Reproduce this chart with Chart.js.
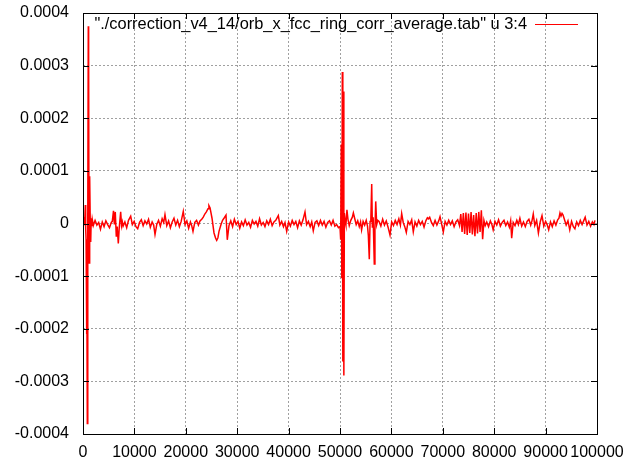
<!DOCTYPE html>
<html>
<head>
<meta charset="utf-8">
<script src="https://cdn.jsdelivr.net/npm/chart.js@4"></script>
<style>
  html, body { margin: 0; padding: 0; background: #fff; }
  #wrap { width: 624px; height: 462px; }
</style>
</head>
<body>
<div id="wrap"><canvas id="orbit" width="624" height="462"></canvas></div>
<script>
// s position along the ring (column 3)
const sPos = [
  0,120,250,350,450,520,600,680,760,840,900,960,1030,1080,1110,1170,1230,1300,1360,1430,1500,1600,1700,1800,
  2000,2350,2700,3050,3400,3750,4100,4450,4800,5150,5500,
  5700,5930,6100,6280,6480,6650,6870,7050,7330,7500,7650,
  7800,8150,8500,8850,9280,9600,9950,10300,10640,11000,
  11350,11700,12050,12400,12750,13100,13450,13750,14010,14350,
  14700,15050,15400,15700,15950,16300,16650,17000,17350,17700,
  18050,18400,18750,19100,19510,19850,20200,20550,20900,21150,
  21400,21750,22100,22450,22760,23100,23400,23700,24000,24320,24500,
  24710,25100,25490,25800,26010,26250,26460,26850,27150,27430,27820,28070,28400,
  28750,29100,29450,29800,30150,30500,30850,31200,31550,31900,
  32250,32600,32950,33300,33650,34000,34350,34700,35050,35400,
  35750,36100,36450,36800,37150,37500,38000,38300,38650,39000,
  39300,39630,40000,40350,40700,41050,41400,41750,42100,42450,
  42800,43190,43500,43850,44200,44500,44800,45150,45500,45850,
  46200,46550,46900,47250,47600,47950,48300,48650,49000,49350,49700,
  50000,50130,50250,50350,50450,50550,50650,50750,50850,51000,
  51150,51350,51550,51800,52100,52400,52600,52850,53150,53450,53750,54000,54200,54500,54800,55100,55350,
  55510,55700,55850,56000,56170,56300,56450,56670,56800,56950,57140,57350,
  57600,57950,58300,58650,59000,59350,59730,60050,60400,60750,
  61100,61450,61750,62000,62300,62600,62900,63250,63600,63950,
  64260,64600,64950,65300,65650,66000,66350,66700,67000,67200,
  67450,67800,68150,68500,68850,69200,69460,69800,70100,70450,
  70800,71150,71500,71850,72200,72550,72900,73250,
  73500,73750,74000,74250,74500,74750,75000,75250,75500,75750,
  76000,76250,76500,76750,77000,77250,77500,77750,78000,78250,
  78550,78900,79250,79550,79800,80150,80500,80850,81200,81550,
  81900,82250,82600,82950,83200,83400,83700,84050,84400,84700,
  85000,85350,85700,86050,86400,86750,87100,87350,87600,87900,
  88250,88600,88950,89300,89650,90000,90300,90600,90950,91300,
  91650,92000,92350,92600,92800,93000,93200,93400,93650,94000,
  94350,94700,95050,95400,95700,96050,96400,96750,97100,97400,
  97700,98050,98400,98750,99100,99400,99600
];

// orbit x (column 4), in units of 1e-6
const orbX = [
  12,4,-2,8,35,-10,-30,-210,-60,-380,-150,20,375,40,320,-75,85,-20,90,-10,-35,10,-5,8,
  -4,6,-3,2,-11,3,-6,5,-2,-8,2,
  4,24,-2,22,-25,-6,-38,-8,22,-4,3,
  -5,3,-8,6,14,-2,4,-6,-10,2,
  7,-4,5,-1,8,-7,3,-3,-21,-2,
  6,-5,9,2,17,-4,5,-8,3,10,
  -3,6,-6,4,23,-2,5,-9,3,-4,
  -15,2,6,-3,5,8,12,18,22,28,34,
  30,10,-18,-28,-32,-27,-15,-2,6,10,16,-31,-4,
  5,-6,8,-2,4,-9,3,-4,7,-3,
  2,-7,6,-1,4,-5,9,-3,2,-6,
  5,-2,8,-4,3,6,15,-3,4,-6,
  2,-15,3,-5,6,-2,4,-8,5,-3,
  7,22,-2,4,-6,3,-14,2,5,-4,
  6,-3,4,-7,2,5,-3,6,-5,-2,-8,
  -6,-31,150,-104,288,-262,251,-289,20,4,
  -3,26,8,-4,6,12,20,10,-2,5,-6,3,-12,4,-3,6,-5,
  -22,-68,4,8,75,-8,12,-77,-10,42,-2,6,
  4,-5,8,-3,5,-7,-22,3,-4,6,
  -2,9,-3,19,2,-6,-17,4,-2,7,
  -16,3,-5,6,-2,4,-7,5,11,9,
  12,2,-4,6,-3,5,13,-2,-16,4,
  -3,6,-2,5,-6,3,7,-4,
  18,-16,20,-20,21,-22,19,-18,22,-21,
  16,-24,20,-19,22,-16,25,-30,6,-4,
  3,-6,5,-2,-12,4,-3,7,-5,2,
  6,-4,3,-7,5,-28,2,-4,6,-2,
  10,-5,3,-6,4,8,-3,5,18,-4,
  6,-18,3,15,-5,4,-2,-12,3,-6,
  5,-3,7,10,20,14,19,16,8,-3,
  5,-12,4,-6,-10,3,-4,6,-2,5,
  12,-3,4,-5,3,-2,6
];

const xTickValues = [0, 10000, 20000, 30000, 40000, 50000, 60000, 70000, 80000, 90000, 100000];
const xTickLabels = ['0', '10000', '20000', '30000', '40000', '50000', '60000', '70000', '80000', '90000', '100000'];
const yTickValues = [-0.0004, -0.0003, -0.0002, -0.0001, 0, 0.0001, 0.0002, 0.0003, 0.0004];
const yTickLabels = ['-0.0004', '-0.0003', '-0.0002', '-0.0001', '0', '0.0001', '0.0002', '0.0003', '0.0004'];

const seriesLabel = '"./correction_v4_14/orb_x_fcc_ring_corr_average.tab" u 3:4';

const FONT = "'Liberation Sans', Arial, sans-serif";

const points = sPos.map((s, i) => ({ x: s, y: orbX[i] * 1e-6 }));

// gnuplot style box, mirrored inward ticks and the key
const frameAndKey = {
  id: 'frameAndKey',
  afterDraw(chart) {
    const { ctx, chartArea: a, scales } = chart;
    ctx.save();
    ctx.strokeStyle = '#000';
    ctx.lineWidth = 1;
    ctx.beginPath();
    xTickValues.forEach(v => {
      const px = Math.round(scales.x.getPixelForValue(v)) + 0.5;
      ctx.moveTo(px, a.bottom); ctx.lineTo(px, a.bottom - 6);
      ctx.moveTo(px, a.top); ctx.lineTo(px, a.top + 6);
    });
    yTickValues.forEach(v => {
      const py = Math.round(scales.y.getPixelForValue(v)) + 0.5;
      ctx.moveTo(a.left, py); ctx.lineTo(a.left + 6, py);
      ctx.moveTo(a.right, py); ctx.lineTo(a.right - 6, py);
    });
    ctx.stroke();
    ctx.strokeRect(a.left + 0.5, a.top + 0.5, a.right - a.left, a.bottom - a.top);

    const ds = chart.data.datasets[0];
    ctx.font = '16.4px ' + FONT;
    ctx.fillStyle = '#000';
    ctx.textAlign = 'right';
    ctx.textBaseline = 'middle';
    ctx.fillText(ds.label, 527, 24);
    ctx.strokeStyle = ds.borderColor;
    ctx.lineWidth = 1;
    ctx.beginPath();
    ctx.moveTo(535, 24.5);
    ctx.lineTo(578, 24.5);
    ctx.stroke();
    ctx.restore();
  }
};

new Chart(document.getElementById('orbit').getContext('2d'), {
  type: 'line',
  data: {
    datasets: [{
      label: seriesLabel,
      data: points,
      borderColor: '#ff0000',
      borderWidth: 1.5,
      pointRadius: 0,
      tension: 0,
      fill: false
    }]
  },
  options: {
    responsive: false,
    animation: false,
    events: [],
    layout: { padding: { left: 0, right: 27, top: 13, bottom: 0 } },
    plugins: {
      legend: { display: false },
      tooltip: { enabled: false }
    },
    scales: {
      x: {
        type: 'linear',
        min: 0,
        max: 100000,
        afterBuildTicks: (scale) => { scale.ticks = xTickValues.map(v => ({ value: v })); },
        afterFit: (scale) => {
          scale.height = 28;
          scale.paddingLeft = 0;
          scale.paddingRight = 0;
        },
        grid: { color: '#a0a0a0', drawTicks: false, lineWidth: 1 },
        border: { display: false, dash: [2, 2] },
        ticks: {
          autoSkip: false,
          maxRotation: 0,
          minRotation: 0,
          padding: 9,
          color: '#000',
          font: { family: FONT, size: 16 },
          callback: (value, index) => xTickLabels[index]
        }
      },
      y: {
        type: 'linear',
        min: -0.0004,
        max: 0.0004,
        afterBuildTicks: (scale) => { scale.ticks = yTickValues.map(v => ({ value: v })); },
        afterFit: (scale) => {
          scale.width = 83;
          scale.paddingTop = 0;
          scale.paddingBottom = 0;
        },
        grid: { color: '#a0a0a0', drawTicks: false, lineWidth: 1 },
        border: { display: false, dash: [2, 2] },
        ticks: {
          autoSkip: false,
          padding: 14,
          color: '#000',
          font: { family: FONT, size: 16 },
          callback: (value, index) => yTickLabels[index]
        }
      }
    }
  },
  plugins: [frameAndKey]
});
</script>
</body>
</html>
